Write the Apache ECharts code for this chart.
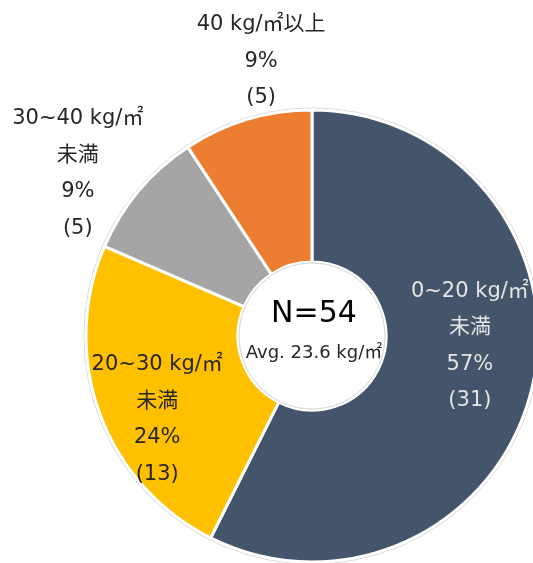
<!DOCTYPE html>
<html><head><meta charset="utf-8">
<script src="https://cdn.jsdelivr.net/npm/echarts@6/dist/echarts.min.js"></script>
<style>html,body{margin:0;padding:0;background:#fff}#c{width:533px;height:563px}</style>
</head><body><div id="c"></div>
<script>
const categories = ['0~20 kg/㎡\n未満', '20~30 kg/㎡\n未満', '30~40 kg/㎡\n未満', '40 kg/㎡以上'];
const counts = [31, 13, 5, 5];
const colors = ['#44546A', '#FFC000', '#A5A5A5', '#ED7D31'];
const labelColors = ['#E4E4E4', '#262626', '#262626', '#262626'];
const labelOffsets = [[9, -25], [-11, 31], [-117, -64], [-7, -128]];
const totalN = 54;
const avgText = 'Avg. 23.6 kg/㎡';

const cx = 312, cy = 336, rOut = 226, rIn = 74;
const font = '"DejaVu Sans", "Noto Sans CJK JP", sans-serif';
const total = counts.reduce((a, b) => a + b, 0);

const chart = echarts.init(document.getElementById('c'), null, {renderer: 'canvas'});
chart.setOption({
  animation: false,
  graphic: [
    {type: 'circle', z: -1, shape: {cx: cx, cy: cy, r: rOut + 2}, style: {fill: 'none', stroke: '#d4d4d4', lineWidth: 1}},
    {type: 'circle', z: 10, shape: {cx: cx, cy: cy, r: rIn - 1}, style: {fill: 'none', stroke: '#d4d4d4', lineWidth: 1}},
    {type: 'text', z: 10, style: {text: 'N=' + totalN, x: cx + 2, y: cy - 22, align: 'center', verticalAlign: 'middle', font: '30px ' + font, fill: '#000'}},
    {type: 'text', z: 10, style: {text: avgText, x: cx + 2, y: cy + 17, align: 'center', verticalAlign: 'middle', font: '18px ' + font, fill: '#262626'}}
  ],
  series: [{
    type: 'pie',
    center: [cx, cy],
    radius: [rIn, rOut],
    startAngle: 90,
    clockwise: true,
    avoidLabelOverlap: false,
    itemStyle: {borderColor: '#fff', borderWidth: 3},
    emphasis: {disabled: true},
    labelLine: {show: false},
    data: categories.map((name, i) => ({
      name: name,
      value: counts[i],
      itemStyle: {color: colors[i]},
      label: {
        show: true,
        position: 'inside',
        offset: labelOffsets[i],
        color: labelColors[i],
        fontFamily: font,
        fontSize: 21,
        lineHeight: 36.5,
        align: 'center',
        formatter: p => p.name + '\n' + Math.round(p.value / total * 100) + '%\n(' + p.value + ')'
      }
    }))
  }]
});
</script></body></html>
